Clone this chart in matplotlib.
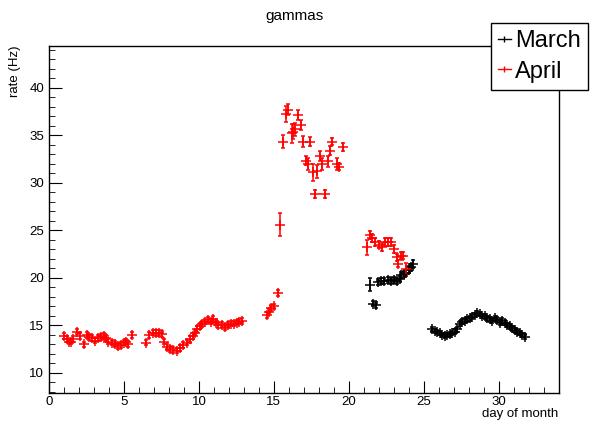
import numpy as np
import matplotlib
matplotlib.use("Agg")
import matplotlib.pyplot as plt
from matplotlib.lines import Line2D
from matplotlib.ticker import MultipleLocator

plt.rcParams['font.family'] = ['Liberation Sans', 'DejaVu Sans']

# April (red)
april_day = [1.02, 1.18, 1.33, 1.47, 1.62, 1.85, 2.07, 2.33, 2.51, 2.69, 2.89, 3.07, 3.25,
             3.47, 3.67, 3.8, 3.95, 4.18, 4.4, 4.62, 4.8, 4.98, 5.13, 5.25, 5.51,
             6.47, 6.69, 6.91, 7.13, 7.35, 7.51, 7.67, 7.84, 8.07, 8.29, 8.51, 8.73,
             8.96, 9.18, 9.4, 9.58, 9.73, 9.89, 10.07, 10.24, 10.42, 10.62, 10.8, 10.96,
             11.13, 11.29, 11.51, 11.73, 11.91, 12.11, 12.33, 12.51, 12.69, 12.87,
             14.55, 14.69, 14.84, 15.0, 15.29, 15.44, 15.58, 15.8, 15.96, 16.18, 16.29,
             16.44, 16.62, 16.78, 16.91, 17.13, 17.29, 17.4, 17.58, 17.73, 17.89, 18.07,
             18.24, 18.4, 18.62, 18.73, 18.91, 19.18, 19.36, 19.58,
             21.24, 21.4, 21.56, 21.73, 22.02, 22.22, 22.4, 22.62, 22.84, 23.02, 23.18,
             23.3, 23.47, 23.62, 23.8]
april_rate = [13.9, 13.55, 13.3, 13.3, 13.6, 14.35, 13.9, 13.0, 14.0, 13.8, 13.65, 13.4, 13.65,
              13.75, 13.9, 13.65, 13.3, 13.2, 13.05, 12.85, 12.95, 13.2, 13.3, 13.05, 14.0,
              13.2, 14.0, 14.25, 14.2, 14.2, 14.1, 13.3, 12.7, 12.5, 12.4, 12.35, 12.6,
              12.95, 13.2, 13.55, 13.9, 14.25, 14.6, 14.95, 15.15, 15.4, 15.6, 15.4, 15.65,
              15.3, 15.05, 15.05, 14.8, 15.05, 15.2, 15.2, 15.3, 15.4, 15.5,
              16.1, 16.45, 16.8, 17.0, 18.4, 25.6, 34.35, 37.25, 37.7, 35.2, 35.4,
              35.65, 37.15, 36.1, 34.35, 32.35, 32.0, 34.35, 31.1, 28.85, 31.2, 32.85,
              32.0, 28.85, 32.25, 33.4, 34.35, 32.0, 31.7, 33.8,
              23.2, 24.5, 24.2, 23.8, 23.5, 23.2, 23.8, 23.8, 23.75, 23.05, 22.15,
              21.5, 22.35, 22.35, 20.9]
april_err = [0.3] * 59 + \
            [0.3, 0.3, 0.3, 0.3, 0.35, 1.2, 0.7, 0.8, 0.6, 1.0, 0.8,
             0.7, 0.5, 0.5, 0.6, 0.5, 0.6, 0.5, 0.9, 0.4, 0.7, 0.5,
             0.6, 0.4, 0.6, 0.5, 0.4, 0.6, 0.4, 0.4] + \
            [0.8, 0.4, 0.4, 0.4, 0.4, 0.4, 0.4, 0.4, 0.4, 0.4, 0.4,
             0.4, 0.4, 0.4, 0.7]

# March (black)
march_day = [21.4, 21.62, 21.78, 21.96, 22.13, 22.36, 22.58, 22.8, 23.02, 23.24, 23.4,
             23.51, 23.69, 23.84, 24.0, 24.13, 24.29,
             25.58, 25.73, 25.89, 26.07, 26.24, 26.4, 26.56, 26.73, 26.91, 27.07, 27.22,
             27.4, 27.58, 27.73, 27.89, 28.07, 28.24, 28.4, 28.56, 28.73, 28.91, 29.07,
             29.22, 29.4, 29.58, 29.73, 29.89, 30.07, 30.24, 30.4, 30.56, 30.73, 30.91,
             31.07, 31.22, 31.4, 31.58, 31.73]
march_rate = [19.3, 17.3, 17.15, 19.55, 19.7, 19.65, 19.8, 19.7, 19.8, 19.65, 19.9,
              20.3, 20.4, 20.5, 20.85, 21.1, 21.45,
              14.6, 14.4, 14.3, 14.2, 14.0, 13.9, 14.0, 14.05, 14.2, 14.35, 14.6,
              15.2, 15.4, 15.5, 15.65, 15.75, 15.9, 16.1, 16.3, 16.2, 16.0, 15.95,
              15.75, 15.65, 15.5, 15.75, 15.6, 15.3, 15.5, 15.3, 15.05, 14.9, 14.7,
              14.5, 14.35, 14.2, 14.0, 13.8]
march_err = [0.7] + [0.3] * 13 + [0.35, 0.35, 0.4] + [0.25] * 38

fig = plt.figure(figsize=(5.9, 4.22), dpi=100)
ax = fig.add_axes([0.083, 0.069, 0.864, 0.822])

ax.errorbar(march_day, march_rate, yerr=march_err, fmt='+', color='black',
            markersize=6.5, mew=1.1, elinewidth=1.1, capsize=1.5)
ax.errorbar(april_day, april_rate, yerr=april_err, fmt='+', color='red',
            markersize=6.5, mew=1.1, elinewidth=1.1, capsize=1.5)

ax.set_xlim(0, 34)
ax.set_ylim(7.9, 44.4)
ax.xaxis.set_major_locator(MultipleLocator(5))
ax.xaxis.set_minor_locator(MultipleLocator(1))
ax.yaxis.set_major_locator(MultipleLocator(5))
ax.yaxis.set_minor_locator(MultipleLocator(1))
ax.tick_params(which='both', direction='in', top=False, right=False, labelsize=9.5)
ax.tick_params(axis='x', pad=2)
ax.tick_params(which='major', length=9)
ax.tick_params(which='minor', length=4.5)
for s in ax.spines.values():
    s.set_linewidth(1)

ax.set_xlabel('day of month', fontsize=9.5, loc='right', labelpad=0)
ax.set_ylabel('rate (Hz)', fontsize=9.5, loc='top', labelpad=6)
fig.text(0.5, 0.962, 'gammas', ha='center', va='center', fontsize=11)

handles = [Line2D([0], [0], color='black', lw=1, marker='|', markersize=5),
           Line2D([0], [0], color='red', lw=1, marker='|', markersize=5)]
fig.legend(handles, ['March', 'April'], loc='upper right', bbox_to_anchor=(0.997, 0.945),
           fontsize=17, fancybox=False, edgecolor='black', framealpha=1,
           handlelength=0.55, handletextpad=0.2, borderpad=0.3, labelspacing=0.35,
           borderaxespad=0)

fig.savefig('out.png', dpi=100)
